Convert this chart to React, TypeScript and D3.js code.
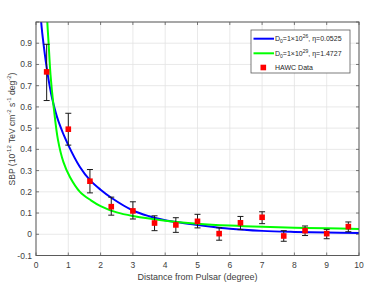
import React from "react";
import * as d3 from "d3";

const dataX = [0.33, 1, 1.67, 2.33, 3, 3.67, 4.33, 5, 5.67, 6.33, 7, 7.67, 8.33, 9, 9.67];
const dataY = [0.765, 0.495, 0.25, 0.13, 0.11, 0.053, 0.044, 0.061, 0.003, 0.054, 0.08, -0.008, 0.017, 0.003, 0.036];
const dataUpper = [0.895, 0.57, 0.305, 0.175, 0.153, 0.087, 0.078, 0.094, 0.031, 0.084, 0.106, 0.017, 0.039, 0.023, 0.058];
const dataLower = [0.63, 0.42, 0.195, 0.09, 0.072, 0.017, 0.009, 0.03, -0.028, 0.022, 0.05, -0.033, -0.006, -0.021, 0.012];

const blueX = [0.12, 0.16, 0.23, 0.36, 0.5, 0.7, 1.0, 1.36, 1.67, 2.0, 2.33, 3.0, 3.5, 4.0, 4.5, 5.0, 6.0, 7.0, 8.0, 9.0, 10.0];
const blueY = [1.1, 1.0, 0.9, 0.756, 0.64, 0.53, 0.42, 0.317, 0.255, 0.21, 0.172, 0.112, 0.085, 0.066, 0.054, 0.044, 0.026, 0.016, 0.011, 0.008, 0.006];

const greenX = [0.31, 0.35, 0.39, 0.45, 0.54, 0.68, 0.85, 1.05, 1.36, 1.7, 2.0, 2.5, 3.0, 4.0, 5.0, 6.0, 7.0, 8.0, 9.0, 10.0];
const greenY = [1.15, 1.0, 0.9, 0.75, 0.61, 0.445, 0.34, 0.27, 0.2, 0.16, 0.133, 0.103, 0.086, 0.064, 0.05, 0.041, 0.035, 0.031, 0.028, 0.025];

const xTicks = [0, 1, 2, 3, 4, 5, 6, 7, 8, 9, 10];
const yTicks = [-0.1, 0, 0.1, 0.2, 0.3, 0.4, 0.5, 0.6, 0.7, 0.8, 0.9, 1.0];
const yLabelTicks = [-0.1, 0, 0.1, 0.2, 0.3, 0.4, 0.5, 0.6, 0.7, 0.8, 0.9];

const W = 382, H = 286;
const L = 36, R = 359, T = 22, B = 255.5;
const FONT = "'Liberation Sans', Arial, Helvetica, sans-serif";
const AX = "#5a5a5a";
const TXT = "#404040";

export default function App() {
  const x = d3.scaleLinear().domain([0, 10]).range([L, R]);
  const y = d3.scaleLinear().domain([-0.1, 1.0]).range([B, T]);
  const line = d3
    .line<[number, number]>()
    .x((d) => x(d[0]))
    .y((d) => y(d[1]))
    .curve(d3.curveCatmullRom.alpha(0.5));
  const blue = blueX.map((v, i) => [v, blueY[i]] as [number, number]);
  const green = greenX.map((v, i) => [v, greenY[i]] as [number, number]);
  const fmt = (d: number) => (Math.abs(d) < 1e-9 ? "0" : d.toFixed(1));
  const tl = 3;

  return (
    <svg width={W} height={H} style={{ position: "absolute", left: 0, top: 0, background: "#fff" }} fontFamily={FONT}>
      <defs>
        <clipPath id="plotclip">
          <rect x={L} y={T} width={R - L} height={B - T} />
        </clipPath>
      </defs>
      <rect x={0} y={0} width={W} height={H} fill="#fff" />
      {xTicks.map((t) => (
        <line key={"gx" + t} x1={x(t)} x2={x(t)} y1={T} y2={B} stroke="#e3e3e3" strokeWidth={0.8} />
      ))}
      {yTicks.map((t) => (
        <line key={"gy" + t} x1={L} x2={R} y1={y(t)} y2={y(t)} stroke="#e3e3e3" strokeWidth={0.8} />
      ))}
      <g clipPath="url(#plotclip)">
        <path d={line(blue) || ""} fill="none" stroke="#0000ff" strokeWidth={2} />
        <path d={line(green) || ""} fill="none" stroke="#00ff00" strokeWidth={2} />
      </g>
      {dataX.map((v, i) => (
        <g key={"e" + i} stroke="#1a1a1a" strokeWidth={1}>
          <line x1={x(v)} x2={x(v)} y1={y(dataUpper[i])} y2={y(dataLower[i])} />
          <line x1={x(v) - 3} x2={x(v) + 3} y1={y(dataUpper[i])} y2={y(dataUpper[i])} />
          <line x1={x(v) - 3} x2={x(v) + 3} y1={y(dataLower[i])} y2={y(dataLower[i])} />
        </g>
      ))}
      {dataX.map((v, i) => (
        <rect key={"p" + i} x={x(v) - 2.8} y={y(dataY[i]) - 2.8} width={5.6} height={5.6} fill="#ff0000" />
      ))}
      <rect x={L} y={T} width={R - L} height={B - T} fill="none" stroke={AX} strokeWidth={1} />
      {xTicks.map((t) => (
        <g key={"xt" + t} stroke={AX} strokeWidth={0.8}>
          <line x1={x(t)} x2={x(t)} y1={B} y2={B - tl} />
          <line x1={x(t)} x2={x(t)} y1={T} y2={T + tl} />
        </g>
      ))}
      {yTicks.map((t) => (
        <g key={"yt" + t} stroke={AX} strokeWidth={0.8}>
          <line x1={L} x2={L + tl} y1={y(t)} y2={y(t)} />
          <line x1={R} x2={R - tl} y1={y(t)} y2={y(t)} />
        </g>
      ))}
      {xTicks.map((t) => (
        <text key={"xl" + t} x={x(t)} y={268} textAnchor="middle" fontSize={8.5} fill={TXT}>
          {t}
        </text>
      ))}
      {yLabelTicks.map((t) => (
        <text key={"yl" + t} x={32} y={y(t) + 3} textAnchor="end" fontSize={8.5} fill={TXT}>
          {fmt(t)}
        </text>
      ))}
      <text x={x(5)} y={280} textAnchor="middle" fontSize={9} fill={TXT}>
        Distance from Pulsar (degree)
      </text>
      <text transform={`translate(14.5,129) rotate(-90)`} textAnchor="middle" fontSize={8.5} fill={TXT}>
        <tspan>SBP (10</tspan>
        <tspan fontSize={6} dy={-3.5}>-12</tspan>
        <tspan dy={3.5}> TeV cm</tspan>
        <tspan fontSize={6} dy={-3.5}>-2</tspan>
        <tspan dy={3.5}> s</tspan>
        <tspan fontSize={6} dy={-3.5}>-1</tspan>
        <tspan dy={3.5}> deg</tspan>
        <tspan fontSize={6} dy={-3.5}>-2</tspan>
        <tspan dy={3.5}>)</tspan>
      </text>
      <g>
        <rect x={251} y={30} width={99} height={43} fill="#fff" stroke={AX} strokeWidth={0.8} />
        <line x1={253.5} x2={274} y1={38.7} y2={38.7} stroke="#0000ff" strokeWidth={2} />
        <text x={275} y={41.2} fontSize={7} fill="#262626">
          <tspan>D</tspan>
          <tspan fontSize={5} dy={2}>0</tspan>
          <tspan dy={-2}>=1×10</tspan>
          <tspan fontSize={5} dy={-3}>26</tspan>
          <tspan dy={3}>, η=0.0525</tspan>
        </text>
        <line x1={253.5} x2={274} y1={53.3} y2={53.3} stroke="#00ff00" strokeWidth={2} />
        <text x={275} y={55.8} fontSize={7} fill="#262626">
          <tspan>D</tspan>
          <tspan fontSize={5} dy={2}>0</tspan>
          <tspan dy={-2}>=1×10</tspan>
          <tspan fontSize={5} dy={-3}>29</tspan>
          <tspan dy={3}>, η=1.4727</tspan>
        </text>
        <rect x={260.5} y={64.7} width={5.6} height={5.6} fill="#ff0000" />
        <text x={275} y={70} fontSize={7} fill="#262626">
          HAWC Data
        </text>
      </g>
    </svg>
  );
}
